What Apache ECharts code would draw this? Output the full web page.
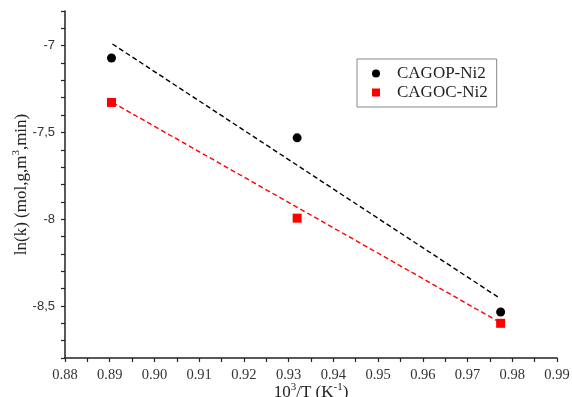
<!DOCTYPE html>
<html>
<head>
<meta charset="utf-8">
<script src="https://cdn.jsdelivr.net/npm/echarts@6/dist/echarts.min.js"></script>
<style>html,body{margin:0;padding:0;background:#fff}#c{width:572px;height:397px}</style>
</head>
<body>
<div id="c"></div>
<script>
// Data
const xValues = [0.8904, 0.9319, 0.9774];
const cagopY = [-7.071, -7.531, -8.535];
const cagocY = [-7.327, -7.994, -8.600];
// fitted trend line end points
const cagopFitX = [0.8906, 0.9770];
const cagopFitY = [-6.990, -8.452];
const cagocFitX = [0.8906, 0.9774];
const cagocFitY = [-7.327, -8.597];
const seriesNames = ['CAGOP-Ni2', 'CAGOC-Ni2'];
const xTickLabels = ['0.88','0.89','0.90','0.91','0.92','0.93','0.94','0.95','0.96','0.97','0.98','0.99'];
const yTickLabels = ['-7', '-7,5', '-8', '-8,5'];

const pairs = (xs, ys) => xs.map((x, i) => [x, ys[i]]);
const serif = 'Liberation Serif';
const nameRich = {
  n: { fontFamily: serif, fontSize: 17, color: '#222', verticalAlign: 'bottom', lineHeight: 19 },
  s: { fontFamily: serif, fontSize: 11, color: '#222', verticalAlign: 'top', lineHeight: 19 }
};

const chart = echarts.init(document.getElementById('c'));
chart.setOption({
  animation: false,
  backgroundColor: '#fff',
  grid: { left: 65, right: 15, top: 11, bottom: 39, containLabel: false, outerBoundsMode: 'none' },
  legend: {
    orient: 'vertical',
    left: 357, top: 59,
    padding: [5, 9, 5, 15],
    borderColor: '#888', borderWidth: 1,
    backgroundColor: '#fff',
    itemWidth: 8, itemHeight: 8, itemGap: 0,
    data: seriesNames,
    textStyle: { fontFamily: serif, fontSize: 17, color: '#222', lineHeight: 19, padding: [0, 0, 0, 12] }
  },
  xAxis: {
    type: 'value', min: 0.88, max: 0.99, interval: 0.005,
    name: '{n|10}{s|3}{n|/T (K}{s|-1}{n|)}', nameLocation: 'middle', nameGap: 24,
    nameMoveOverlap: false,
    nameTextStyle: { rich: nameRich },
    axisLine: { lineStyle: { color: '#222', width: 1.5 } },
    axisTick: { length: 4, lineStyle: { color: '#222', width: 1.2 } },
    splitLine: { show: false },
    axisLabel: {
      margin: 10, fontFamily: serif, fontSize: 14.5, color: '#333', showMinLabel: true, showMaxLabel: true,
      formatter: v => {
        const k = Math.round((v - 0.88) / 0.01 * 1000) / 1000;
        return Number.isInteger(k) && xTickLabels[k] !== undefined ? xTickLabels[k] : '';
      }
    }
  },
  yAxis: {
    type: 'value', min: -8.8, max: -6.8, interval: 0.1,
    name: '{n|ln(k) (mol,g,m}{s|3}{n|,min)}', nameLocation: 'middle', nameGap: 35,
    nameMoveOverlap: false,
    nameTextStyle: { rich: nameRich },
    axisLine: { show: true, lineStyle: { color: '#222', width: 1.5 } },
    axisTick: { show: true, length: 4, lineStyle: { color: '#222', width: 1.2 } },
    splitLine: { show: false },
    axisLabel: {
      margin: 10, fontFamily: 'Liberation Sans', fontSize: 13, color: '#333',
      formatter: v => {
        const k = Math.round((-7 - v) / 0.5 * 1000) / 1000;
        return Number.isInteger(k) && yTickLabels[k] !== undefined ? yTickLabels[k] : '';
      }
    }
  },
  series: [
    { name: seriesNames[0], type: 'scatter', symbol: 'circle', symbolSize: 9,
      itemStyle: { color: '#000', opacity: 1 }, data: pairs(xValues, cagopY), z: 5 },
    { name: seriesNames[1], type: 'scatter', symbol: 'rect', symbolSize: 9,
      itemStyle: { color: '#ff0000', opacity: 1 }, data: pairs(xValues, cagocY), z: 5 },
    { name: 'fit1', type: 'line', symbol: 'none', silent: true,
      lineStyle: { color: '#000', width: 1.4, type: [5, 3] }, data: pairs(cagopFitX, cagopFitY) },
    { name: 'fit2', type: 'line', symbol: 'none', silent: true,
      lineStyle: { color: '#ff0000', width: 1.4, type: [5, 3] }, data: pairs(cagocFitX, cagocFitY) }
  ]
});
</script>
</body>
</html>
